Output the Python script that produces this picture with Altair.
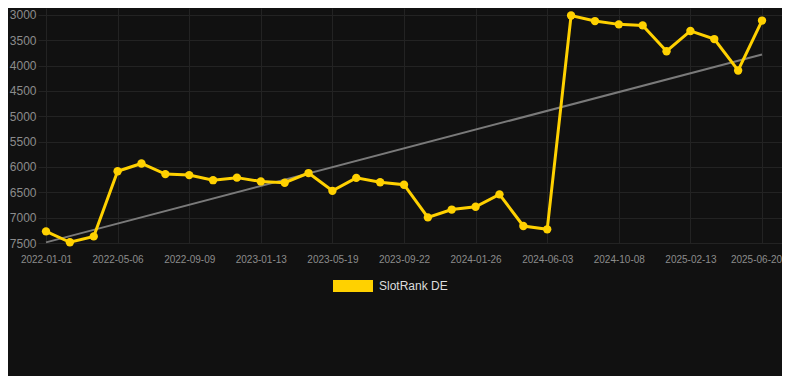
import altair as alt
import pandas as pd

dates = [
    "2022-01-01", "2022-02-12", "2022-03-26", "2022-05-06", "2022-06-17", "2022-07-29",
    "2022-09-09", "2022-10-21", "2022-12-02", "2023-01-13", "2023-02-24", "2023-04-07",
    "2023-05-19", "2023-06-30", "2023-08-11", "2023-09-22", "2023-11-03", "2023-12-15",
    "2024-01-26", "2024-03-08", "2024-04-19", "2024-06-03", "2024-07-15", "2024-08-26",
    "2024-10-08", "2024-11-19", "2025-01-01", "2025-02-13", "2025-03-27", "2025-05-08",
    "2025-06-20",
]
ranks = [
    7270, 7485, 7370, 6085, 5930, 6140, 6160, 6260, 6210, 6285, 6310,
    6120, 6470, 6215, 6300, 6350, 6995, 6840, 6785, 6540, 7165, 7230,
    3010, 3120, 3185, 3205, 3715, 3315, 3475, 4095, 3110,
]
tick_dates = ["2022-01-01", "2022-05-06", "2022-09-09", "2023-01-13", "2023-05-19",
              "2023-09-22", "2024-01-26", "2024-06-03", "2024-10-08", "2025-02-13",
              "2025-06-20"]
y_ticks = [3000, 3500, 4000, 4500, 5000, 5500, 6000, 6500, 7000, 7500]
trend_dates = ["2022-01-01", "2025-06-20"]
trend_values = [7488, 3778]
series_name = "SlotRank DE"

df = pd.DataFrame({"date": dates, "rank": ranks, "series": series_name})
trend = pd.DataFrame({"date": trend_dates, "rank": trend_values})

YELLOW = "#FFD100"
FONT = "Liberation Sans"

x_scale = alt.Scale(type="point", domain=dates, padding=0.5866, align=0.286)
y_scale = alt.Scale(domain=[2862, 7500], reverse=True, nice=False, zero=False)

last_tick = tick_dates[-1]
x_axis = alt.Axis(values=tick_dates, title=None, labelAngle=0, ticks=False, domain=False,
                  grid=True, gridColor="#232323", labelColor="#8c8c8c", labelFontSize=10,
                  labelFont=FONT, labelPadding=11,
                  labelOffset=alt.ExprRef(f"datum.value == '{last_tick}' ? -6 : 0"))
y_axis = alt.Axis(values=y_ticks, format="d", title=None, ticks=False, domain=False, grid=True,
                  gridColor="#232323", labelColor="#8c8c8c", labelFontSize=12,
                  labelFont=FONT, labelPadding=2)

base_x = alt.X("date:O", scale=x_scale, axis=x_axis, sort=dates)
base_y = alt.Y("rank:Q", scale=y_scale, axis=y_axis)

trend_layer = alt.Chart(trend).mark_line(color="#7a7a7a", strokeWidth=2).encode(
    x=alt.X("date:O", scale=x_scale, sort=dates, axis=x_axis),
    y=alt.Y("rank:Q", scale=y_scale, axis=y_axis),
)

line_layer = alt.Chart(df).mark_line(color=YELLOW, strokeWidth=3).encode(
    x=base_x, y=base_y
)

point_layer = alt.Chart(df).mark_circle(size=70, opacity=1).encode(
    x=base_x,
    y=base_y,
    color=alt.Color(
        "series:N",
        scale=alt.Scale(domain=[series_name], range=[YELLOW]),
        legend=alt.Legend(
            title=None, orient="none", legendX=295, legendY=258,
            symbolType="M-1,-0.3H1V0.3H-1Z", symbolSize=1600,
            symbolStrokeWidth=0, symbolOpacity=1, labelColor="#dddddd",
            labelFontSize=12, labelFont=FONT, labelOffset=6,
        ),
    ),
)

chart = alt.layer(trend_layer, line_layer, point_layer).properties(
    width=744,
    height=235,
    background="#111111",
    padding={"left": 30, "top": 0, "right": 0, "bottom": 133},
    autosize=alt.AutoSizeParams(type="none"),
).configure_view(stroke=None)

chart.save("out.html", embed_options={"renderer": "svg", "actions": False})
